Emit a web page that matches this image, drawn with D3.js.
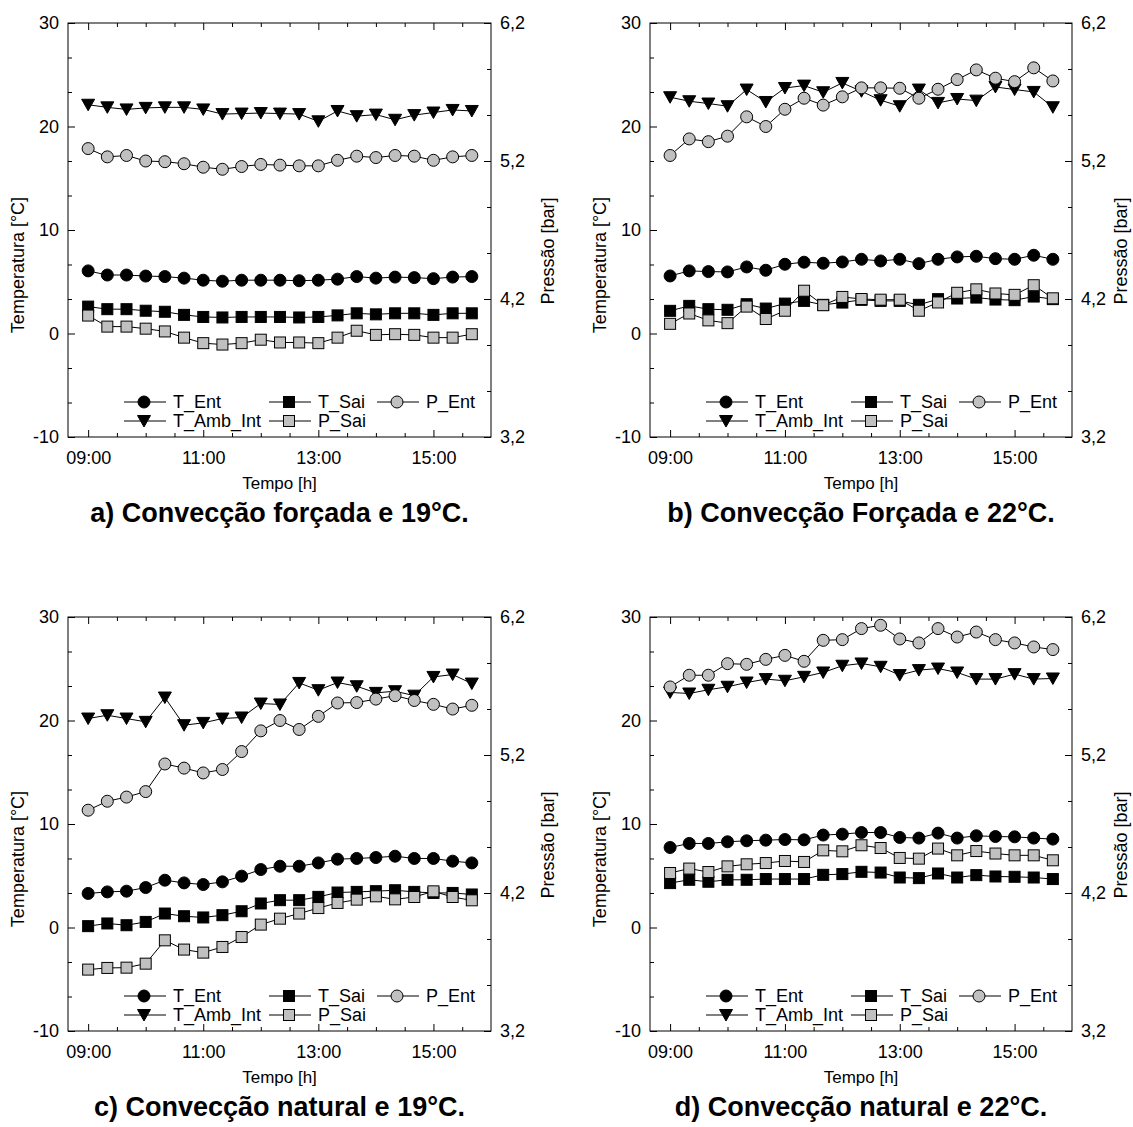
<!DOCTYPE html>
<html><head><meta charset="utf-8">
<script src="https://cdn.jsdelivr.net/npm/d3@7"></script>
<style>
body{margin:0;background:#fff}
svg{display:block}
text{font-family:"Liberation Sans",Arial,Helvetica,sans-serif;fill:#000}
</style>
</head><body>
<svg id="chart" width="1133" height="1127"></svg>
<script>
// ---------- data ----------
const times = ["09:00","09:20","09:40","10:00","10:20","10:40","11:00","11:20","11:40","12:00","12:20",
               "12:40","13:00","13:20","13:40","14:00","14:20","14:40","15:00","15:20","15:40"];
const xTickLabels = ["09:00","11:00","13:00","15:00"];
const tempTicks = [-10, 0, 10, 20, 30];
const tempTickLabels = ["-10","0","10","20","30"];
const presTicks = [3.2, 4.2, 5.2, 6.2];
const presTickLabels = ["3,2","4,2","5,2","6,2"];
const seriesNames = ["T_Ent","T_Sai","P_Ent","T_Amb_Int","P_Sai"];
const panelTitles = ["a) Convecção forçada e 19°C.","b) Convecção Forçada e 22°C.",
                     "c) Convecção natural e 19°C.","d) Convecção natural e 22°C."];

// a) forced convection, 19 °C
const tEntA = [6.05,5.65,5.65,5.55,5.5,5.35,5.15,5.05,5.15,5.15,5.15,5.1,5.15,5.25,5.5,5.35,5.45,5.4,5.3,5.45,5.5];
const tSaiA = [2.6,2.35,2.35,2.2,2.1,1.8,1.6,1.55,1.6,1.6,1.6,1.55,1.6,1.75,1.95,1.85,1.95,1.95,1.8,1.95,1.95];
const tAmbA = [22.1,21.85,21.65,21.8,21.85,21.85,21.65,21.2,21.25,21.3,21.25,21.2,20.5,21.5,21.0,21.15,20.65,21.1,21.35,21.6,21.5];
const pEntA = [5.29,5.23,5.24,5.2,5.195,5.18,5.155,5.14,5.16,5.175,5.17,5.165,5.165,5.205,5.235,5.225,5.24,5.235,5.205,5.23,5.24];
const pSaiA = [4.08,4.0,4.0,3.985,3.965,3.92,3.88,3.87,3.88,3.905,3.885,3.885,3.88,3.92,3.97,3.94,3.945,3.94,3.92,3.92,3.945];

// b) forced convection, 22 °C
const tEntB = [5.56,6.05,5.98,5.95,6.43,6.11,6.69,6.89,6.79,6.91,7.17,7.01,7.17,6.75,7.17,7.4,7.46,7.23,7.17,7.56,7.17];
const tSaiB = [2.19,2.67,2.35,2.29,2.83,2.41,2.89,3.15,2.77,2.99,3.25,3.15,3.15,2.77,3.32,3.38,3.47,3.28,3.22,3.57,3.32];
const tAmbB = [22.83,22.44,22.22,21.96,23.57,22.37,23.72,23.95,23.31,24.21,23.4,22.54,21.96,23.57,22.28,22.66,22.5,23.82,23.57,23.34,21.86];
const pEntB = [5.24,5.36,5.34,5.38,5.52,5.45,5.575,5.655,5.605,5.665,5.73,5.73,5.727,5.655,5.72,5.79,5.86,5.8,5.775,5.875,5.78];
const pSaiB = [4.02,4.095,4.045,4.025,4.145,4.055,4.115,4.26,4.155,4.215,4.2,4.195,4.195,4.115,4.175,4.245,4.27,4.24,4.23,4.3,4.205];

// c) natural convection, 19 °C
const tEntC = [3.29,3.44,3.51,3.86,4.57,4.31,4.15,4.41,4.96,5.6,5.92,5.92,6.24,6.6,6.67,6.76,6.89,6.67,6.67,6.41,6.24];
const tSaiC = [0.13,0.39,0.22,0.54,1.35,1.09,0.97,1.19,1.57,2.32,2.64,2.64,2.96,3.38,3.44,3.51,3.6,3.44,3.34,3.34,3.19];
const tAmbC = [20.19,20.51,20.19,19.87,22.22,19.55,19.77,20.19,20.29,21.64,21.55,23.63,22.93,23.67,23.31,22.67,22.83,22.4,24.21,24.44,23.57];
const pEntC = [4.8,4.865,4.895,4.935,5.135,5.105,5.07,5.095,5.225,5.375,5.45,5.385,5.48,5.577,5.58,5.605,5.63,5.595,5.567,5.533,5.56];
const pSaiC = [3.645,3.657,3.659,3.688,3.857,3.79,3.768,3.809,3.881,3.971,4.014,4.051,4.091,4.128,4.152,4.176,4.154,4.171,4.212,4.171,4.147];

// d) natural convection, 22 °C
const tEntD = [7.73,8.12,8.12,8.28,8.38,8.44,8.5,8.47,8.93,9.02,9.18,9.18,8.7,8.64,9.12,8.64,8.86,8.79,8.76,8.64,8.54];
const tSaiD = [4.29,4.61,4.42,4.61,4.61,4.68,4.68,4.68,5.09,5.16,5.38,5.31,4.83,4.77,5.22,4.83,5.06,4.93,4.9,4.83,4.68];
const tAmbD = [22.71,22.61,22.97,23.26,23.67,24.0,23.84,24.22,24.64,25.29,25.51,25.19,24.39,24.87,25.02,24.64,24.0,24.0,24.48,24.0,24.06];
const pEntD = [5.693,5.778,5.778,5.862,5.857,5.893,5.922,5.879,6.031,6.036,6.116,6.14,6.041,6.012,6.116,6.055,6.091,6.036,6.012,5.983,5.964];
const pSaiD = [4.345,4.377,4.352,4.393,4.408,4.417,4.432,4.425,4.509,4.502,4.546,4.526,4.454,4.449,4.522,4.473,4.504,4.486,4.473,4.473,4.437];

// ---------- layout ----------
const toHours = s => +s.slice(0,2) + (+s.slice(3))/60;
const hours = times.map(toHours);
const GRAY = "#c0c0c0";

const panels = [
  {x0:68,  x1:491,  y0:23,  y1:437,  pr:63, title:panelTitles[0], d:{T_Ent:tEntA,T_Sai:tSaiA,T_Amb_Int:tAmbA,P_Ent:pEntA,P_Sai:pSaiA}},
  {x0:650, x1:1072, y0:23,  y1:437,  pr:55, title:panelTitles[1], d:{T_Ent:tEntB,T_Sai:tSaiB,T_Amb_Int:tAmbB,P_Ent:pEntB,P_Sai:pSaiB}},
  {x0:68,  x1:491,  y0:617, y1:1031, pr:63, title:panelTitles[2], d:{T_Ent:tEntC,T_Sai:tSaiC,T_Amb_Int:tAmbC,P_Ent:pEntC,P_Sai:pSaiC}},
  {x0:650, x1:1072, y0:617, y1:1031, pr:55, title:panelTitles[3], d:{T_Ent:tEntD,T_Sai:tSaiD,T_Amb_Int:tAmbD,P_Ent:pEntD,P_Sai:pSaiD}}
];

const styles = {
  T_Ent:{axis:"T", sym:"circle", fill:"#000"},
  T_Sai:{axis:"T", sym:"square", fill:"#000"},
  T_Amb_Int:{axis:"T", sym:"triangle", fill:"#000"},
  P_Ent:{axis:"P", sym:"circle", fill:GRAY},
  P_Sai:{axis:"P", sym:"square", fill:GRAY}
};
const drawOrder = ["T_Ent","T_Sai","T_Amb_Int","P_Ent","P_Sai"];
const legendPos = {T_Ent:[0,0], T_Sai:[1,0], P_Ent:[2,0], T_Amb_Int:[0,1], P_Sai:[1,1]};
const legendCols = [76, 221, 329];

const svg = d3.select("#chart");

function drawSymbol(g, type, cx, cy, fill) {
  if (type === "circle") {
    g.append("circle").attr("cx",cx).attr("cy",cy).attr("r",6)
      .attr("fill",fill).attr("stroke","#000").attr("stroke-width",1);
  } else if (type === "square") {
    g.append("rect").attr("x",cx-5.5).attr("y",cy-5.5).attr("width",11).attr("height",11)
      .attr("fill",fill).attr("stroke","#000").attr("stroke-width",1);
  } else {
    g.append("path").attr("d",`M${cx-6.5},${cy-5.5}L${cx+6.5},${cy-5.5}L${cx},${cy+6}Z`)
      .attr("fill",fill).attr("stroke","#000").attr("stroke-width",1);
  }
}

panels.forEach(p => {
  const x = d3.scaleLinear().domain([8.65, 16.0]).range([p.x0, p.x1]);
  const yT = d3.scaleLinear().domain([-10, 30]).range([p.y1, p.y0]);
  const yP = d3.scaleLinear().domain([3.2, 6.2]).range([p.y1, p.y0]);
  const g = svg.append("g");

  const xMajor = xTickLabels.map(toHours);
  const xMinor = d3.range(9, 15.75, 0.5).filter(v => !xMajor.includes(v));
  const tMinor = d3.range(-10, 30.01, 10/3).map(v => +v.toFixed(4)).filter(v => !tempTicks.some(t => Math.abs(t-v) < 1e-6));
  const pMinor = d3.range(3.2, 6.21, 1/3).map(v => +v.toFixed(4)).filter(v => !presTicks.some(t => Math.abs(t-v) < 1e-6));

  const styleAxis = sel => { sel.select(".domain").remove(); sel.selectAll("line").attr("stroke","#000"); sel.selectAll("text").attr("font-size",18).attr("fill","#000").attr("font-family",null); };

  // bottom
  g.append("g").attr("transform",`translate(0,${p.y1})`)
    .call(d3.axisBottom(x).tickValues(xMajor).tickSize(-7).tickPadding(14).tickFormat((d,i)=>xTickLabels[i])).call(styleAxis);
  g.append("g").attr("transform",`translate(0,${p.y1})`)
    .call(d3.axisBottom(x).tickValues(xMinor).tickSize(-4).tickFormat("")).call(styleAxis);
  // top
  g.append("g").attr("transform",`translate(0,${p.y0})`)
    .call(d3.axisTop(x).tickValues(xMajor).tickSize(-7).tickFormat("")).call(styleAxis);
  g.append("g").attr("transform",`translate(0,${p.y0})`)
    .call(d3.axisTop(x).tickValues(xMinor).tickSize(-4).tickFormat("")).call(styleAxis);
  // left
  g.append("g").attr("transform",`translate(${p.x0},0)`)
    .call(d3.axisLeft(yT).tickValues(tempTicks).tickSize(-7).tickPadding(9).tickFormat((d,i)=>tempTickLabels[i])).call(styleAxis);
  g.append("g").attr("transform",`translate(${p.x0},0)`)
    .call(d3.axisLeft(yT).tickValues(tMinor).tickSize(-4).tickFormat("")).call(styleAxis);
  // right
  g.append("g").attr("transform",`translate(${p.x1},0)`)
    .call(d3.axisRight(yP).tickValues(presTicks).tickSize(-7).tickPadding(9).tickFormat((d,i)=>presTickLabels[i])).call(styleAxis);
  g.append("g").attr("transform",`translate(${p.x1},0)`)
    .call(d3.axisRight(yP).tickValues(pMinor).tickSize(-4).tickFormat("")).call(styleAxis);

  // frame
  g.append("rect").attr("x",p.x0).attr("y",p.y0).attr("width",p.x1-p.x0).attr("height",p.y1-p.y0)
    .attr("fill","none").attr("stroke","#000").attr("stroke-width",1);

  // series
  drawOrder.forEach(name => {
    const st = styles[name];
    const ys = st.axis === "T" ? yT : yP;
    const vals = p.d[name];
    const line = d3.line().x((d,i)=>x(hours[i])).y(d=>ys(d));
    g.append("path").datum(vals).attr("d",line).attr("fill","none").attr("stroke","#000").attr("stroke-width",1);
    const mg = g.append("g");
    vals.forEach((v,i) => drawSymbol(mg, st.sym, x(hours[i]), ys(v), st.fill));
  });

  // legend
  const lg = g.append("g");
  seriesNames.forEach(name => {
    const [c, r] = legendPos[name];
    const cx = p.x0 + legendCols[c];
    const cy = p.y1 - 35 + r*19;
    lg.append("line").attr("x1",cx-20).attr("x2",cx+22).attr("y1",cy).attr("y2",cy).attr("stroke","#000");
    drawSymbol(lg, styles[name].sym, cx, cy, styles[name].fill);
    lg.append("text").attr("x",cx+29).attr("y",cy).attr("dy","0.35em").attr("font-size",18).text(name);
  });

  // axis titles
  const cxp = (p.x0+p.x1)/2, cyp = (p.y0+p.y1)/2;
  g.append("text").attr("transform",`translate(${p.x0-44},${cyp+35}) rotate(-90)`)
    .attr("text-anchor","middle").attr("font-size",18).text("Temperatura [°C]");
  g.append("text").attr("transform",`translate(${p.x1+p.pr},${cyp+21}) rotate(-90)`)
    .attr("text-anchor","middle").attr("font-size",18).text("Pressão [bar]");
  g.append("text").attr("x",cxp).attr("y",p.y1+52).attr("text-anchor","middle").attr("font-size",17).text("Tempo [h]");
  g.append("text").attr("x",cxp).attr("y",p.y1+85).attr("text-anchor","middle")
    .attr("font-size",27).attr("font-weight","bold").text(p.title);
});
</script>
</body></html>
